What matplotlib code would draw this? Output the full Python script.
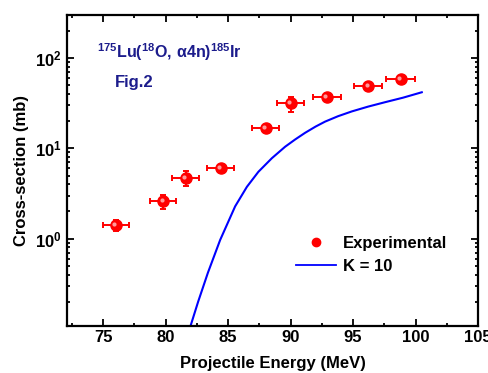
import numpy as np
import matplotlib
matplotlib.use("Agg")
import matplotlib.pyplot as plt
from matplotlib.lines import Line2D
from matplotlib.ticker import FixedLocator, LogLocator, NullFormatter, MultipleLocator
from matplotlib.transforms import offset_copy

plt.rcParams['font.family'] = ['Liberation Sans', 'DejaVu Sans']
plt.rcParams['font.weight'] = 'bold'
plt.rcParams['mathtext.fontset'] = 'custom'
plt.rcParams['mathtext.rm'] = 'Liberation Sans'
plt.rcParams['mathtext.bf'] = 'Liberation Sans:bold'
plt.rcParams['mathtext.it'] = 'Liberation Sans:italic'

# Experimental data
exp_energy = [76.0, 79.8, 81.6, 84.4, 88.0, 90.0, 92.9, 96.2, 98.8]
exp_xs = [1.43, 2.6, 4.7, 6.1, 16.6, 31.4, 36.6, 48.5, 58.5]
exp_xerr = [1.05, 1.05, 1.1, 1.1, 1.1, 1.1, 1.1, 1.1, 1.15]
exp_yerr = [0.2, 0.45, 0.9, 0.5, 1.2, 6.0, 2.5, 3.5, 4.0]

# Calculation K = 10
calc_energy = [81.96, 82.6, 83.38, 84.36, 85.56, 86.5, 87.42, 88.5, 89.56,
               90.36, 91.16, 92.0, 92.76, 93.8, 94.9, 96.2, 97.56, 99.0, 100.5]
calc_xs = [0.105, 0.201, 0.420, 0.968, 2.28, 3.75, 5.50, 7.78, 10.42,
           12.53, 14.86, 17.42, 19.77, 22.70, 25.64, 28.97, 32.43, 36.39, 41.78]

xticks = [75, 80, 85, 90, 95, 100, 105]
yticks = [1, 10, 100]
ytick_labels = [r'$\mathbf{10^{0}}$', r'$\mathbf{10^{1}}$', r'$\mathbf{10^{2}}$']

fig = plt.figure(figsize=(4.89, 3.73), dpi=100)
ax = fig.add_axes([0.137, 0.126, 0.8405, 0.834])

red = '#ff0000'
ax.errorbar(exp_energy, exp_xs, xerr=exp_xerr, yerr=exp_yerr, fmt='o',
            color=red, ecolor=red, markersize=8, elinewidth=1.4,
            capsize=2.5, capthick=1.4, zorder=3)
hl = offset_copy(ax.transData, fig=fig, x=-1.5, y=1.0, units='dots')
ax.plot(exp_energy, exp_xs, 'o', color='#ff9a9a', markersize=3,
        markeredgewidth=0, transform=hl, zorder=4)

ax.plot(calc_energy, calc_xs, '-', color='#0000ff', lw=1.5, zorder=2,
        solid_joinstyle='round')

ax.set_yscale('log')
ax.set_xlim(72.1, 105)
ax.set_ylim(0.108, 300)

ax.xaxis.set_major_locator(FixedLocator(xticks))
ax.xaxis.set_minor_locator(MultipleLocator(2.5))
ax.set_xticklabels([str(t) for t in xticks])
ax.yaxis.set_major_locator(FixedLocator(yticks))
ax.yaxis.set_minor_locator(LogLocator(base=10, subs=np.arange(2, 10)))
ax.yaxis.set_minor_formatter(NullFormatter())
ax.set_yticklabels(ytick_labels)

for s in ax.spines.values():
    s.set_linewidth(1.6)
ax.tick_params(which='both', direction='in', top=True, right=True,
               width=1.3, labelsize=12)
ax.tick_params(which='major', length=5)
ax.tick_params(which='minor', length=2.5)
ax.tick_params(axis='x', pad=3)
ax.tick_params(axis='y', pad=4)

ax.set_xlabel('Projectile Energy (MeV)', fontsize=12, fontweight='bold', labelpad=8)
ax.set_ylabel('Cross-section (mb)', fontsize=12, fontweight='bold', labelpad=4)

navy = '#1c1c8c'
ax.text(0.073, 0.88, r'$\mathbf{{}^{175}Lu(^{18}O,\,α4n)^{185}Ir}$',
        transform=ax.transAxes, color=navy, fontsize=11.5, va='center', ha='left')
ax.text(0.117, 0.783, 'Fig.2', transform=ax.transAxes, color=navy,
        fontsize=12, fontweight='bold', va='center', ha='left')

handles = [Line2D([], [], marker='o', color=red, ls='none', markersize=6),
           Line2D([], [], color='#0000ff', lw=1.3)]
ax.legend(handles, ['Experimental', 'K = 10'], loc='center left',
          bbox_to_anchor=(0.52, 0.228), frameon=False, fontsize=12,
          handlelength=2.4, handletextpad=0.45, labelspacing=0.45)

fig.savefig('out.png', dpi=100)
